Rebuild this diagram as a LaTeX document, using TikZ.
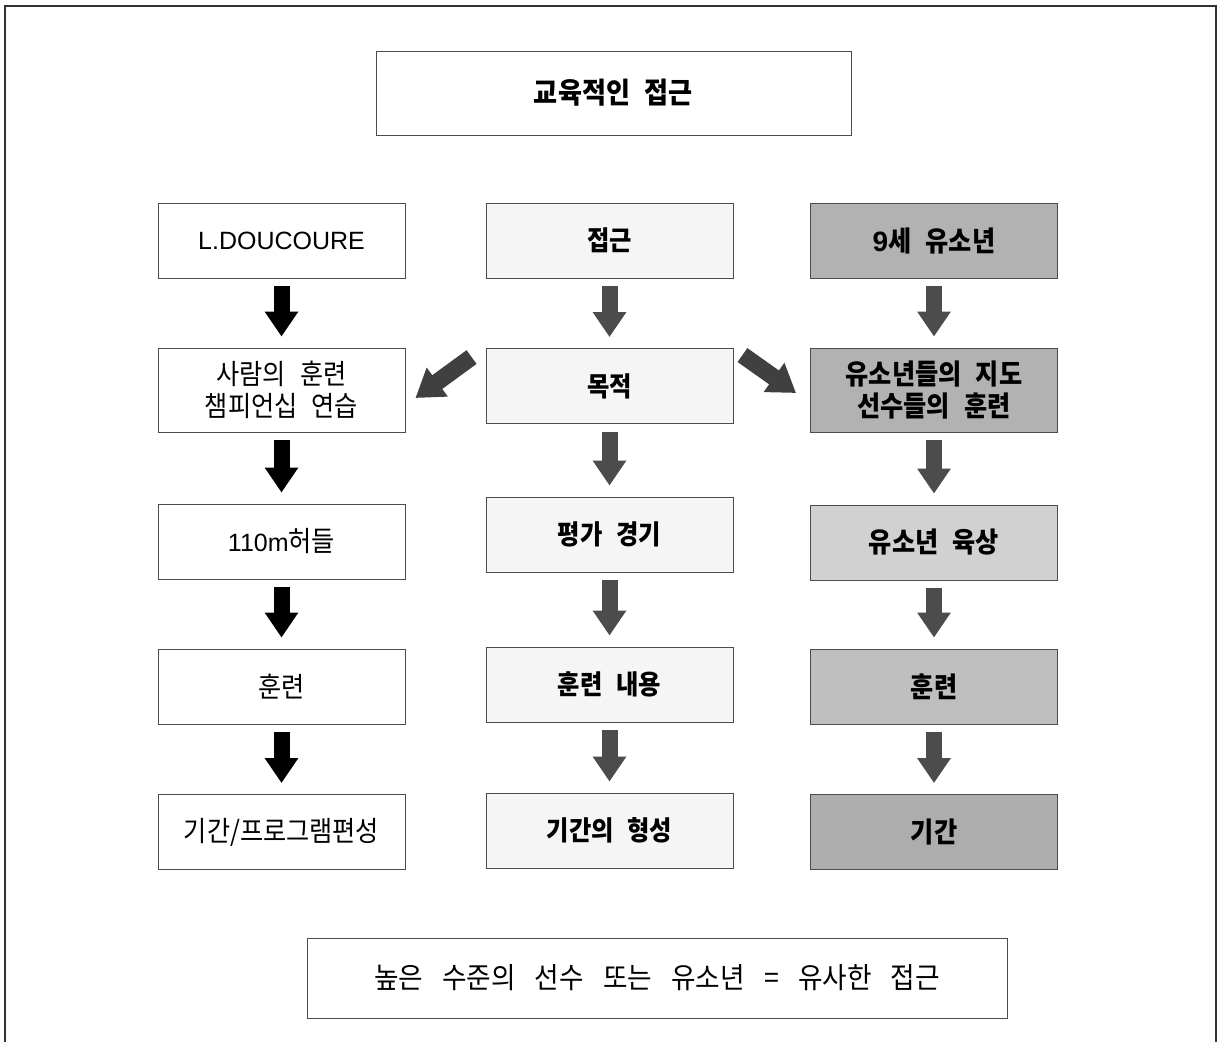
\documentclass[tikz,border=0pt]{standalone}
\usepackage{fontspec}
\newfontfamily\kr[FakeStretch=0.9,WordSpace=2.5]{Noto Sans CJK KR}
\newfontfamily\krwide[FakeStretch=0.92,WordSpace=3.2]{Noto Sans CJK KR}
\newfontfamily\lat{Liberation Sans}
\usetikzlibrary{arrows.meta,calc}
\tikzset{
  box/.style={draw=black!70, line width=0.9pt, minimum width=247pt, minimum height=75pt,
    inner sep=0pt, align=center, font=\kr\fontsize{28}{32}\selectfont},
  tall/.style={minimum height=84pt},
  midbox/.style={box, fill=black!4, font=\kr\bfseries\fontsize{27}{32}\selectfont},
  rightbox/.style={box, fill=black!#1, font=\kr\bfseries\fontsize{28}{32}\selectfont},
  downarrow/.style={line width=16pt, -{Triangle[width=32pt,length=25pt]},
    shorten <=8pt, shorten >=11pt},
  sidearrow/.style={line width=17pt, black!75, -{Triangle[width=34pt,length=27pt]}},
}
\newcommand{\latin}[1]{{\lat\fontsize{25}{32}\selectfont #1}}
\begin{document}
\begin{tikzpicture}[x=1pt,y=-1pt]
\useasboundingbox (0,0) rectangle (1218,1042);
\draw[line width=1.5pt, black!80] (5,1042) -- (5,6) -- (1216,6) -- (1216,1042);

\node[box, minimum width=475pt, minimum height=84pt, font=\kr\bfseries\fontsize{29}{30}\selectfont]
  (title) at (613.5,93) {교육적인 접근};

% left column
\node[box] (l1) at (281.5,240.5) {\latin{L.DOUCOURE}};
\node[box,tall] (l2) at (281.5,390) {사람의 훈련\\챔피언십 연습};
\node[box] (l3) at (281.5,541.5) {\latin{110m}허들};
\node[box] (l4) at (281.5,686.5) {훈련};
\node[box] (l5) at (281.5,832) {기간/프로그램편성};

% middle column
\node[midbox] (m1) at (609.5,240.5) {접근};
\node[midbox] (m2) at (609.5,386) {목적};
\node[midbox] (m3) at (609.5,534.5) {평가 경기};
\node[midbox] (m4) at (609.5,684.5) {훈련 내용};
\node[midbox] (m5) at (609.5,830.5) {기간의 형성};

% right column
\node[rightbox=30] (r1) at (934,240.5) {{\lat\fontsize{28}{32}\selectfont 9}세 유소년};
\node[rightbox=30,tall] (r2) at (934,390) {유소년들의 지도\\선수들의 훈련};
\node[rightbox=18] (r3) at (934,542.5) {유소년 육상};
\node[rightbox=25] (r4) at (934,686.5) {훈련};
\node[rightbox=32] (r5) at (934,832) {기간};

\node[box, minimum width=700pt, minimum height=80pt,
  font=\krwide\fontsize{29}{32}\selectfont] (goal) at (657,978)
  {높은 수준의 선수 또는 유소년 = 유사한 접근};

\foreach \a/\b in {l1/l2,l2/l3,l3/l4,l4/l5}
  \draw[downarrow, black] (\a.south) -- (\b.north);
\foreach \a/\b in {m1/m2,m2/m3,m3/m4,m4/m5,r1/r2,r2/r3,r3/r4,r4/r5}
  \draw[downarrow, black!70] (\a.south) -- (\b.north);

\draw[sidearrow] ($(m2.north west)+(-14,9)$) -- ($(l2.east)+(10,8)$);
\draw[sidearrow] ($(m2.north east)+(9,7)$) -- ($(r2.west)+(-14,3)$);
\end{tikzpicture}
\end{document}
